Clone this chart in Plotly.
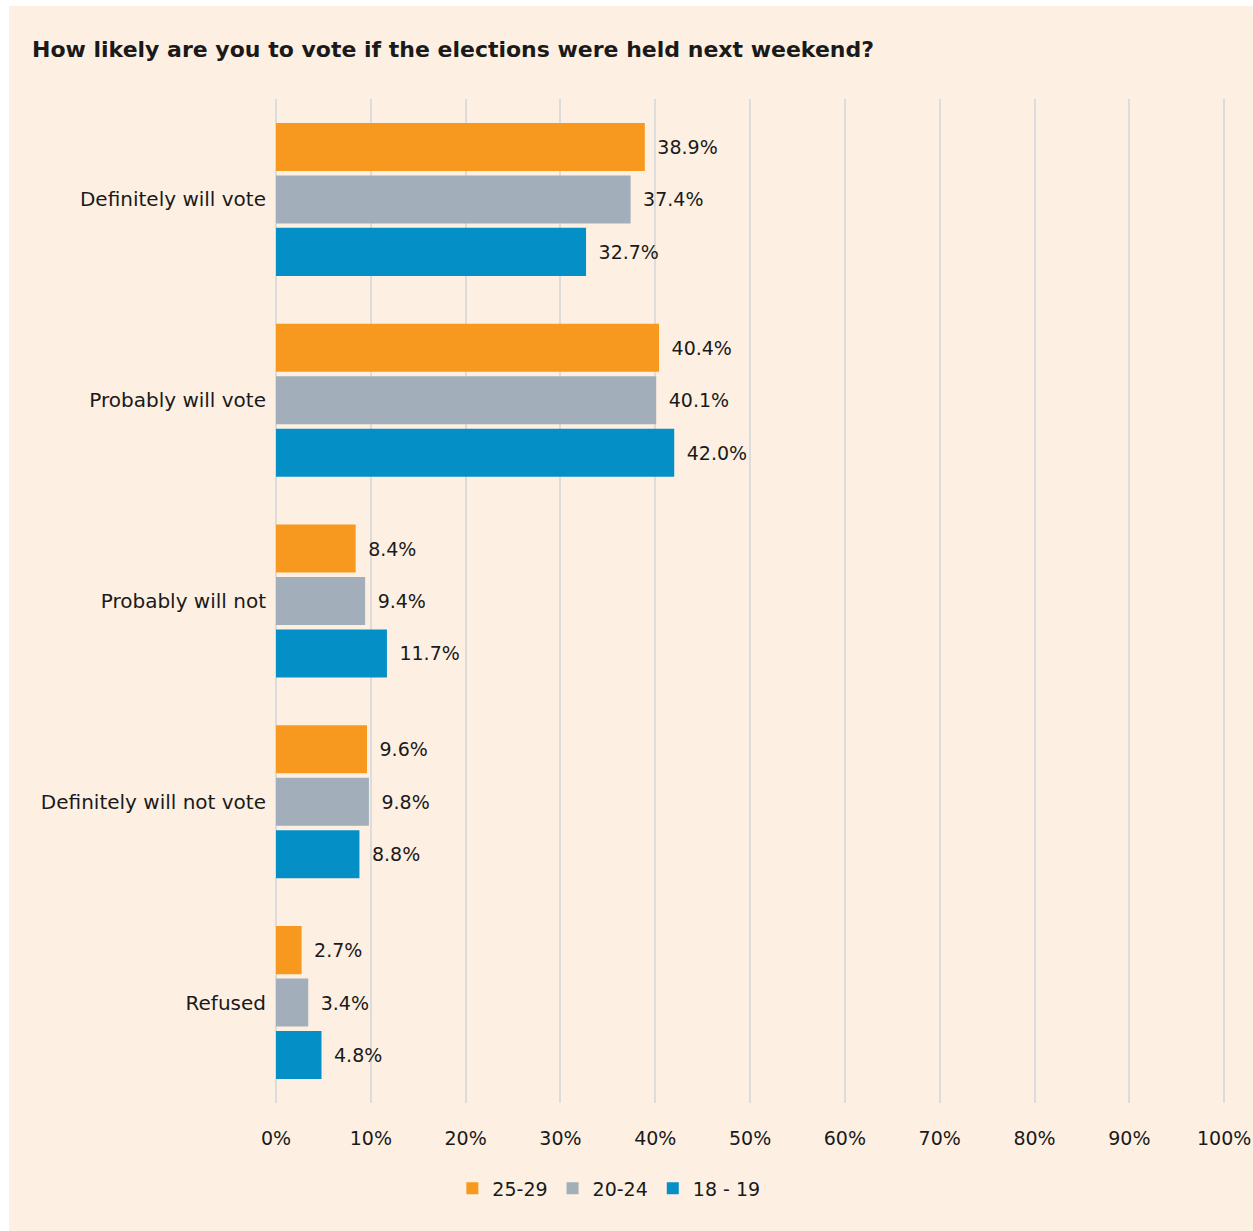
import plotly.graph_objects as go

categories = ["Definitely will vote", "Probably will vote", "Probably will not",
              "Definitely will not vote", "Refused"]
series_names = ["25-29", "20-24", "18 - 19"]
v_25_29 = [38.9, 40.4, 8.4, 9.6, 2.7]
v_20_24 = [37.4, 40.1, 9.4, 9.8, 3.4]
v_18_19 = [32.7, 42.0, 11.7, 8.8, 4.8]
series_values = [v_25_29, v_20_24, v_18_19]
colors = ["#F7991F", "#A2AEB9", "#058FC7"]
x_ticks = list(range(0, 101, 10))

BG = "#FDF0E2"
TXT = "#1a1a1a"
FONT = "DejaVu Sans"

fig = go.Figure()
for name, vals, col in zip(series_names, series_values, colors):
    fig.add_trace(go.Bar(
        y=categories, x=vals, name=name, orientation="h",
        marker=dict(color=col, line=dict(width=0)),
        text=[f"\u2002{v:.1f}%" for v in vals],
        textposition="outside", constraintext="none", cliponaxis=False,
        outsidetextfont=dict(family=FONT, size=19, color=TXT),
        hoverinfo="skip",
    ))

fig.update_layout(
    width=1244, height=1225,
    paper_bgcolor=BG, plot_bgcolor=BG,
    margin=dict(l=267, r=26, t=93, b=128, autoexpand=False),
    barmode="group", bargap=0.216, bargroupgap=0.085,
    font=dict(family=FONT, size=19, color=TXT),
    title=dict(text="<b>How likely are you to vote if the elections were held next weekend?</b>",
               x=23 / 1244, xanchor="left", y=1 - 43 / 1225, yanchor="middle",
               font=dict(family=FONT, size=22, color=TXT)),
    showlegend=True,
    legend=dict(orientation="h", x=0.35, xanchor="center", y=-0.085, yanchor="middle",
                font=dict(family=FONT, size=19, color=TXT), itemwidth=30,
                bgcolor="rgba(0,0,0,0)", traceorder="normal"),
    xaxis=dict(range=[0, 100.3], tickvals=x_ticks, ticktext=[f"{t}%" for t in x_ticks],
               showgrid=True, gridcolor="#DCDCDC", gridwidth=2,
               zeroline=True, zerolinecolor="#DCDCDC", zerolinewidth=2,
               showline=False, ticks="outside", ticklen=18, tickcolor=BG,
               automargin=False,
               tickfont=dict(family=FONT, size=19, color=TXT), fixedrange=True),
    yaxis=dict(autorange="reversed", showgrid=False, zeroline=False, showline=False,
               ticks="outside", ticklen=5, tickcolor=BG, automargin=False,
               tickfont=dict(family=FONT, size=20, color=TXT), fixedrange=True),
)

fig.write_html("out.html", post_script="document.body.style.margin='6px 0 0 9px';",
               config={"displayModeBar": False})
